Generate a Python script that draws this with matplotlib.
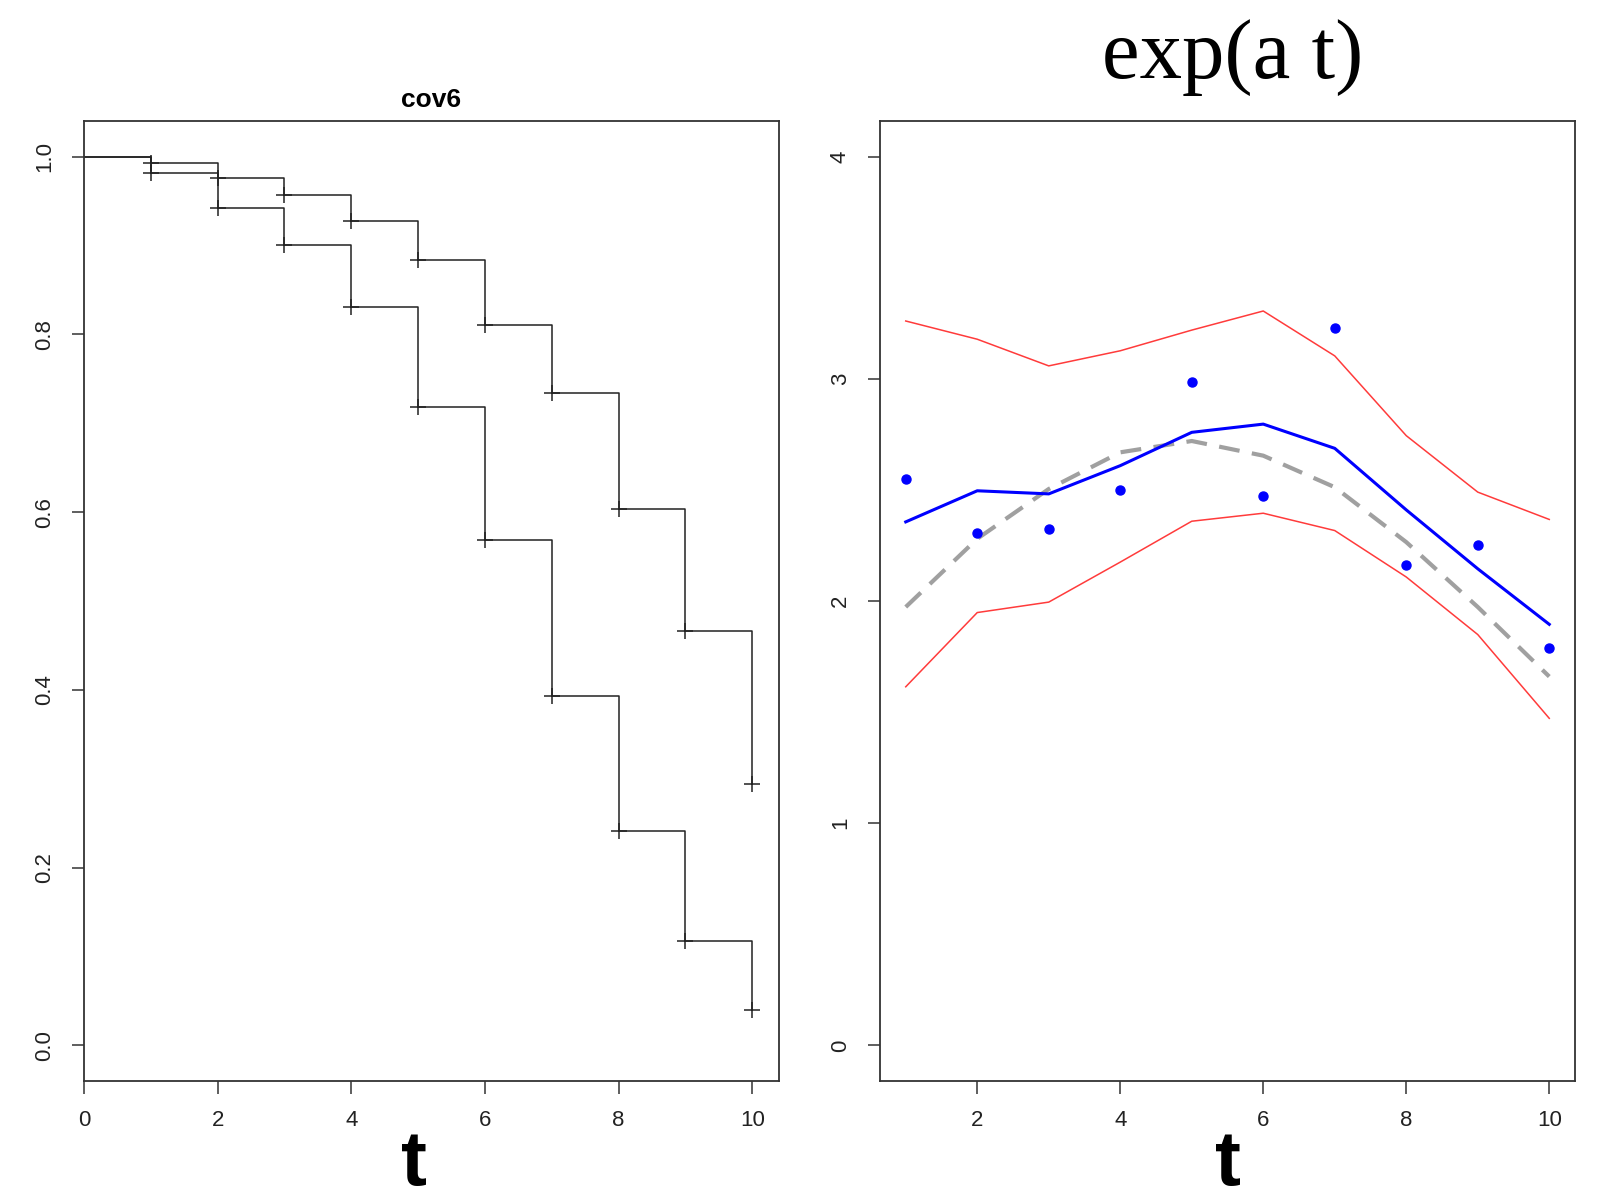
import numpy as np
import matplotlib.pyplot as plt

# left panel: two survival step curves (cov6)
times = [0, 1, 2, 3, 4, 5, 6, 7, 8, 9, 10]
surv_upper = [1.0, 0.9925, 0.976, 0.957, 0.927, 0.884, 0.810, 0.734, 0.603, 0.466, 0.294]
surv_lower = [1.0, 0.982, 0.942, 0.900, 0.831, 0.718, 0.569, 0.393, 0.241, 0.118, 0.040]

# right panel: exp(a t) estimate, bands, truth and raw points
t = [1, 2, 3, 4, 5, 6, 7, 8, 9, 10]
points = [2.549, 2.307, 2.325, 2.501, 2.987, 2.473, 3.229, 2.160, 2.250, 1.787]
fit = [2.356, 2.496, 2.482, 2.609, 2.759, 2.796, 2.687, 2.410, 2.145, 1.895]
upper = [3.260, 3.178, 3.058, 3.126, 3.219, 3.305, 3.103, 2.744, 2.490, 2.367]
lower = [1.614, 1.948, 1.995, 2.175, 2.359, 2.395, 2.317, 2.108, 1.849, 1.472]
truth = [1.973, 2.280, 2.504, 2.669, 2.720, 2.654, 2.512, 2.265, 1.973, 1.660]

tick_font = ['Liberation Sans Narrow', 'Liberation Sans', 'DejaVu Sans']
sans = ['Liberation Sans', 'DejaVu Sans']
axcol = '#333333'

fig = plt.figure(figsize=(16.11, 12.02), dpi=100)
ax1 = fig.add_axes([84/1611, 1-1081/1202, 695/1611, 960/1202])
ax2 = fig.add_axes([880/1611, 1-1081/1202, 695/1611, 960/1202])

# left plot
ax1.step(times, surv_upper, where='post', color='#222222', lw=1.1)
ax1.step(times, surv_lower, where='post', color='#222222', lw=1.1)
ax1.plot(times[1:], surv_upper[1:], ls='none', marker='+', ms=11, mew=1.1, color='#222222')
ax1.plot(times[1:], surv_lower[1:], ls='none', marker='+', ms=11, mew=1.1, color='#222222')
ax1.set_xlim(0, 10.4)
ax1.set_ylim(-0.04, 1.04)
ax1.set_xticks([0, 2, 4, 6, 8, 10])
ax1.set_yticks([0.0, 0.2, 0.4, 0.6, 0.8, 1.0])
ax1.set_yticklabels(['0.0', '0.2', '0.4', '0.6', '0.8', '1.0'])
ax1.set_title('cov6', fontsize=19, fontweight='bold', family=sans, pad=10)

# right plot
ax2.plot(t, upper, color='#ff3b3b', lw=1.1)
ax2.plot(t, lower, color='#ff3b3b', lw=1.1)
ax2.plot(t, truth, color='#a0a0a0', lw=3, dashes=(5, 3))
ax2.plot(t, fit, color='#0000ff', lw=2.2)
ax2.plot(t, points, ls='none', marker='o', ms=6.5, color='#0000ff')
ax2.set_xlim(0.64, 10.36)
ax2.set_ylim(-0.16, 4.16)
ax2.set_xticks([2, 4, 6, 8, 10])
ax2.set_yticks([0, 1, 2, 3, 4])

for ax in (ax1, ax2):
    for s in ax.spines.values():
        s.set_color(axcol)
        s.set_linewidth(1.3)
    ax.tick_params(direction='out', length=9, width=1.1, color=axcol, labelcolor='#222222',
                   labelsize=16, pad=12)
    for lab in ax.get_xticklabels() + ax.get_yticklabels():
        lab.set_family(tick_font)
    for lab in ax.get_yticklabels():
        lab.set_rotation(90)
        lab.set_va('center')

# big axis labels (kept inside the figure edge)
fig.text(414/1611, 1/1202, 't', fontsize=56, fontweight='bold', family=sans,
         ha='center', va='bottom')
fig.text(1228/1611, 1/1202, 't', fontsize=56, fontweight='bold', family=sans,
         ha='center', va='bottom')

fig.text(1233/1611, 1-58/1202, 'exp(a t)', fontsize=61, family=['Liberation Serif', 'DejaVu Serif'],
         ha='center', va='center')

fig.savefig('out.png', dpi=100)
